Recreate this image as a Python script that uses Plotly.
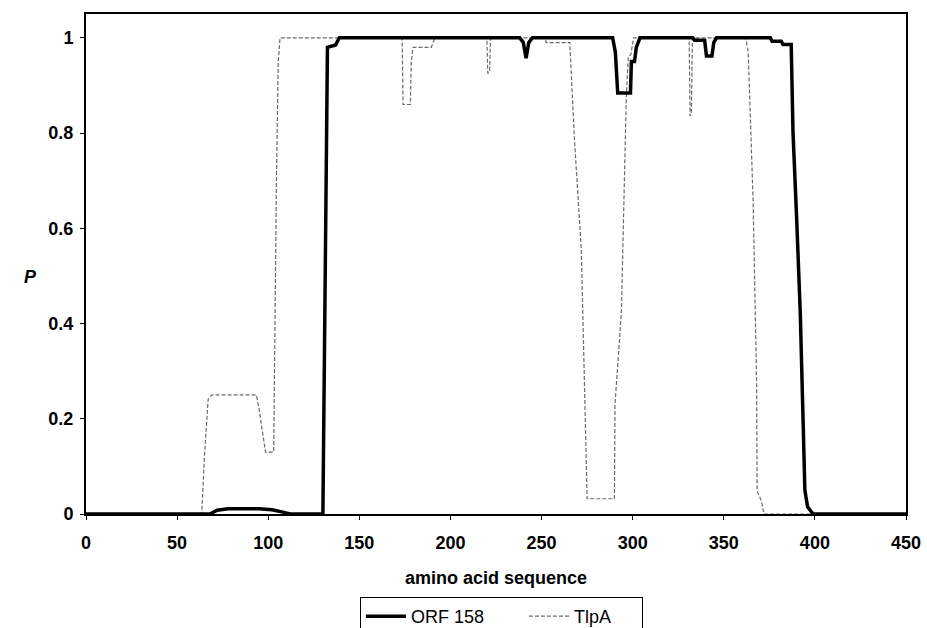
import plotly.graph_objects as go

# ORF 158 (thick black line) breakpoints
orf_x = [0, 68, 72, 78, 95, 102, 108, 112, 130, 131.5, 132.5, 137, 139,
         238, 240, 241.5, 243, 245, 289, 290.5, 291.8, 298.8, 299.3, 301, 302, 304,
         333, 334, 339.5, 340.5, 343.5, 344.5, 346, 375.5, 376.5, 381.5, 382.5, 387,
         388, 390, 392, 393.5, 394.5, 396, 399, 450]
orf_y = [0, 0, 0.008, 0.011, 0.011, 0.009, 0.004, 0, 0, 0.6, 0.98, 0.985, 1.0,
         1.0, 0.99, 0.957, 0.99, 1.0, 1.0, 0.97, 0.884, 0.884, 0.95, 0.95, 0.98, 1.0,
         1.0, 0.995, 0.995, 0.962, 0.962, 0.99, 1.0, 1.0, 0.993, 0.993, 0.986, 0.986,
         0.8, 0.62, 0.42, 0.2, 0.05, 0.015, 0, 0]

# TlpA (thin grey line) breakpoints
tlp_x = [0, 63.5, 65, 67, 69, 93.5, 95, 97.5, 98.5, 103, 103.8, 104.5, 105.5, 106.5,
         173.5, 174, 178, 178.5, 179.5, 189.5, 191.5, 220, 220.5, 221.5, 222,
         252, 252.5, 265.5, 268, 271.8, 274.5, 275, 290, 290.3, 293.8, 296.5, 297.6,
         299, 300.5, 331, 331.5, 332.2, 332.8, 362, 363.4, 366.1, 368, 368.3, 370.7,
         372, 450]
tlp_y = [0, 0, 0.12, 0.24, 0.25, 0.25, 0.22, 0.16, 0.13, 0.13, 0.46, 0.7, 0.95, 1.0,
         1.0, 0.86, 0.86, 0.95, 0.98, 0.98, 1.0, 1.0, 0.925, 0.93, 1.0,
         1.0, 0.99, 0.99, 0.79, 0.556, 0.118, 0.032, 0.032, 0.23, 0.423, 0.875, 0.96,
         0.965, 1.0, 1.0, 0.836, 0.84, 1.0, 1.0, 0.97, 0.657, 0.28, 0.048, 0.027,
         0, 0]

series_names = ["ORF 158", "TlpA"]

x_ticks = [0, 50, 100, 150, 200, 250, 300, 350, 400, 450]
x_tick_text = ["0", "50", "100", "150", "200", "250", "300", "350", "400", "450"]
y_ticks = [0, 0.2, 0.4, 0.6, 0.8, 1.0]
y_tick_text = ["0", "0.2", "0.4", "0.6", "0.8", "1"]

FONT = "Liberation Sans, Arial, sans-serif"
NB = "\u00a0"

fig = go.Figure()
fig.add_trace(go.Scatter(
    x=tlp_x, y=tlp_y, mode="lines", name=series_names[1] + NB * 5, legendrank=2,
    line=dict(color="#6a6a6a", width=1.2, dash="4px,2px"),
))
fig.add_trace(go.Scatter(
    x=orf_x, y=orf_y, mode="lines", name=series_names[0] + NB * 7, legendrank=1,
    line=dict(color="black", width=3.5),
))

fig.update_layout(
    width=927, height=628,
    paper_bgcolor="white", plot_bgcolor="white",
    margin=dict(l=86, r=21, t=14, b=114, autoexpand=False),
    font=dict(family=FONT, size=18, color="black"),
    xaxis=dict(
        range=[0, 450], tickvals=x_ticks, ticktext=x_tick_text,
        showgrid=False, zeroline=False, showline=True, mirror=True,
        linecolor="black", linewidth=2, ticks="outside", ticklen=4,
        tickwidth=1, tickcolor="black", ticklabelstandoff=7,
        tickfont=dict(family=FONT, size=18, weight="bold"),
    ),
    yaxis=dict(
        range=[0, 1.05], tickvals=y_ticks, ticktext=y_tick_text,
        showgrid=False, zeroline=False, showline=True, mirror=True,
        linecolor="black", linewidth=2, ticks="outside", ticklen=4,
        tickwidth=1, tickcolor="black", ticklabelstandoff=3,
        tickfont=dict(family=FONT, size=18, weight="bold"),
    ),
    showlegend=True,
    legend=dict(
        orientation="h", x=0.334, xanchor="left", y=-0.166, yanchor="top",
        bordercolor="black", borderwidth=1, bgcolor="white",
        font=dict(family=FONT, size=18),
        itemwidth=40, tracegroupgap=0,
    ),
    annotations=[
        dict(text="amino acid sequence", xref="paper", yref="paper",
             x=0.5, y=-0.128, xanchor="center", yanchor="middle",
             showarrow=False, font=dict(family=FONT, size=18, weight="bold")),
        dict(text="P", xref="paper", yref="paper",
             x=-0.068, y=0.474, xanchor="center", yanchor="middle",
             showarrow=False,
             font=dict(family=FONT, size=18, weight="bold", style="italic")),
    ],
)

fig.write_html("out.html", config={"displayModeBar": False},
               post_script="document.body.style.margin='0';")
